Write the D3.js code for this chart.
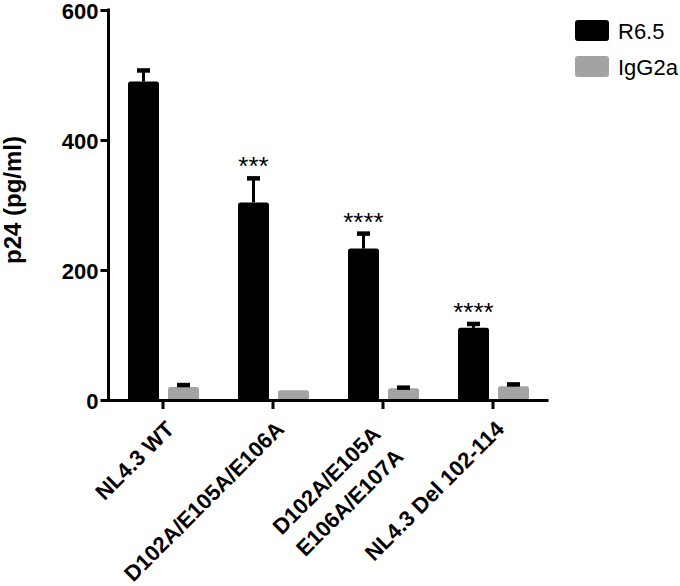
<!DOCTYPE html>
<html>
<head>
<meta charset="utf-8">
<script src="https://cdn.jsdelivr.net/npm/d3@7"></script>
<style>
  body { margin: 0; background: #fff; }
  text { font-family: "Liberation Sans", Arial, sans-serif; fill: #000; }
</style>
</head>
<body>
<div id="chart"></div>
<script>
// categories (\n = line break in the axis label)
var categories = ["NL4.3 WT", "D102A/E105A/E106A", "D102A/E105A\nE106A/E107A", "NL4.3 Del 102-114"];
var series = ["R6.5", "IgG2a"];
var r65 = [490, 304, 233, 111];
var r65Err = [17, 37, 23, 6];
var igg = [20, 15, 18, 21];
var iggErr = [3, 0, 1, 3];
var stars = ["", "***", "****", "****"];
var yTicks = [0, 200, 400, 600];

var colors = { "R6.5": "#000000", "IgG2a": "#a3a3a3" };

var width = 680, height = 586;

var svg = d3.select("#chart").append("svg")
    .attr("width", width)
    .attr("height", height);

var x0 = d3.scaleBand()
    .domain(categories)
    .range([108, 548])
    .padding(0);

var x1 = d3.scaleBand()
    .domain(series)
    .range([20, 91])
    .paddingInner(0.225)
    .paddingOuter(0);

var y = d3.scaleLinear()
    .domain([0, 600])
    .range([400, 10]);

// build rows from the arrays
var rows = [];
categories.forEach(function (c, i) {
    rows.push({ cat: c, s: "R6.5", v: r65[i], e: r65Err[i] });
    rows.push({ cat: c, s: "IgG2a", v: igg[i], e: iggErr[i] });
});

// bars
svg.selectAll(".bar")
    .data(rows)
    .enter()
    .append("rect")
    .attr("class", "bar")
    .attr("x", function (d) { return x0(d.cat) + x1(d.s); })
    .attr("y", function (d) { return y(d.v); })
    .attr("width", x1.bandwidth())
    .attr("height", function (d) { return y(0) - y(d.v) + 2; })
    .attr("rx", 2.5)
    .attr("fill", function (d) { return colors[d.s]; });

// error bars (upper only)
var err = svg.selectAll(".err")
    .data(rows.filter(function (d) { return d.e > 0; }))
    .enter()
    .append("g")
    .attr("class", "err");

err.append("line")
    .attr("x1", function (d) { return x0(d.cat) + x1(d.s) + x1.bandwidth() / 2; })
    .attr("x2", function (d) { return x0(d.cat) + x1(d.s) + x1.bandwidth() / 2; })
    .attr("y1", function (d) { return y(d.v); })
    .attr("y2", function (d) { return y(d.v + d.e); })
    .attr("stroke", "#000")
    .attr("stroke-width", 3);

err.append("line")
    .attr("x1", function (d) { return x0(d.cat) + x1(d.s) + x1.bandwidth() / 2 - 6.5; })
    .attr("x2", function (d) { return x0(d.cat) + x1(d.s) + x1.bandwidth() / 2 + 6.5; })
    .attr("y1", function (d) { return y(d.v + d.e); })
    .attr("y2", function (d) { return y(d.v + d.e); })
    .attr("stroke", "#000")
    .attr("stroke-width", 4.5);

// significance stars over R6.5 bars
svg.selectAll(".star")
    .data(categories)
    .enter()
    .append("text")
    .attr("class", "star")
    .attr("x", function (d) { return x0(d) + x1("R6.5") + x1.bandwidth() / 2; })
    .attr("y", function (d, i) { return y(r65[i] + r65Err[i]) - 3; })
    .attr("text-anchor", "middle")
    .style("font-size", "26px")
    .text(function (d, i) { return stars[i]; });

// y axis
var yAxis = d3.axisLeft(y)
    .tickValues(yTicks)
    .tickSize(8)
    .tickPadding(2)
    .tickSizeOuter(0);

var gy = svg.append("g")
    .attr("transform", "translate(108.5,0)")
    .call(yAxis);
gy.select(".domain").attr("stroke-width", 3).attr("d", "M0,8.5V401.5");
gy.selectAll(".tick line").attr("stroke-width", 3);
gy.selectAll(".tick text")
    .style("font-size", "22px")
    .style("font-weight", "bold")
    .attr("dy", "0.38em");

// x axis
var xAxis = d3.axisBottom(x0)
    .tickSize(9)
    .tickSizeOuter(0)
    .tickFormat("");

var gx = svg.append("g")
    .attr("transform", "translate(0,400)")
    .call(xAxis);
gx.select(".domain").attr("stroke-width", 3);
gx.selectAll(".tick line").attr("stroke-width", 3);

// rotated category labels
var labels = svg.selectAll(".xlab")
    .data(categories)
    .enter()
    .append("text")
    .attr("class", "xlab")
    .attr("text-anchor", "end")
    .style("font-size", "22px")
    .style("font-weight", "bold")
    .attr("transform", function (d) {
        return "translate(" + (x0(d) + x0.bandwidth() / 2 + 7) + ",425) rotate(-45)";
    });

labels.each(function (d) {
    var lines = d.split("\n");
    var t = d3.select(this);
    lines.forEach(function (l, k) {
        t.append("tspan")
            .attr("x", lines.length > 1 ? -13 : 0)
            .attr("y", lines.length > 1 ? -6 + k * 32 : 0)
            .attr("dy", "0.35em")
            .text(l);
    });
});

// y axis title
svg.append("text")
    .attr("transform", "translate(21,200) rotate(-90)")
    .attr("text-anchor", "middle")
    .style("font-size", "24px")
    .style("font-weight", "bold")
    .text("p24 (pg/ml)");

// legend
var legend = svg.selectAll(".legend")
    .data(series)
    .enter()
    .append("g")
    .attr("class", "legend")
    .attr("transform", function (d, i) { return "translate(575," + (20 + i * 36) + ")"; });

legend.append("rect")
    .attr("width", 34)
    .attr("height", 21)
    .attr("rx", 3)
    .attr("fill", function (d) { return colors[d]; });

legend.append("text")
    .attr("x", 43)
    .attr("y", 19)
    .style("font-size", "22px")
    .text(function (d) { return d; });
</script>
</body>
</html>
